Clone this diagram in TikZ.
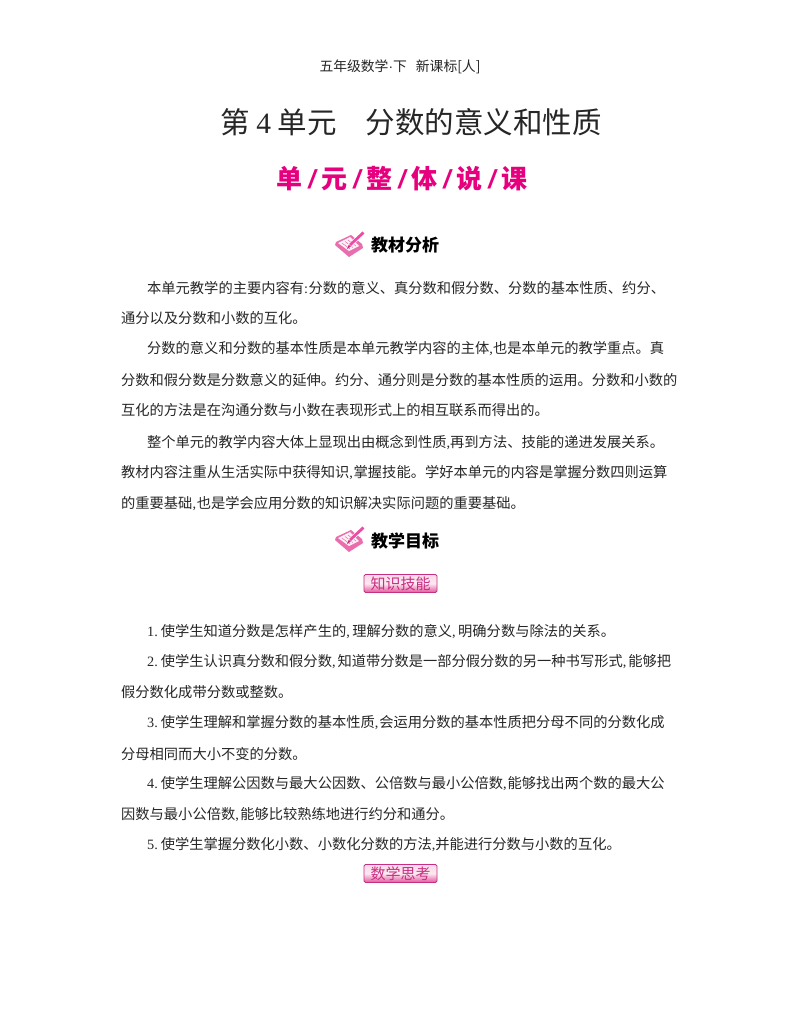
\documentclass[tikz,border=0pt]{standalone}
\usepackage{fontspec}
\setmainfont{Noto Sans CJK SC}
\newfontfamily\latinserif{Liberation Serif}
\newfontfamily\latinsans{Liberation Sans}
\definecolor{rosered}{HTML}{E6007E}
\definecolor{badgepink}{HTML}{E4559E}
\definecolor{badgedark}{HTML}{C62F82}
\definecolor{badgelight}{HTML}{FBD9E8}
\definecolor{inktext}{HTML}{262626}
\newcommand{\cma}[1][1.2pt]{{\latinserif,}\hspace{#1}}
\newcommand{\colonmark}{{\latinserif :}\hspace{0.5pt}}
\newcommand{\numb}[1]{{\latinserif #1.}\hspace{3pt}}
\newcommand{\slashmark}{\hspace{5.9pt}{\latinsans\bfseries\itshape /}\hspace{5.9pt}}
\tikzset{
  bodyline/.style={anchor=west,inner sep=0pt,text=inktext,font=\fontsize{14.26}{16}\selectfont},
  headline/.style={inner sep=0pt,text=black,font=\fontsize{17}{19}\selectfont\bfseries},
  badge/.style={rounded corners=1.5pt,draw=badgedark,line width=0.9pt,minimum width=73pt,minimum height=18pt,
    inner sep=0pt,top color=badgelight,bottom color=badgepink,middle color=badgelight!60!white,
    text=badgedark,font=\fontsize{15}{17}\selectfont},
}
\newcommand{\bookicon}[2]{%
  \begin{scope}[shift={(#1,#2)}]
    \fill[badgepink!85!white] (-15,0) -- (-1,-12) -- (13,-3) -- (12,1) -- (1,10) -- (-14,3) -- cycle;
    \fill[badgelight!40!white] (-12,2) -- (-1,-6) -- (9,-1) -- (0,8) -- cycle;
    \draw[badgepink,line width=0.4pt] (-8,2) -- (0,-4) (-5,3.5) -- (3,-2.5) (-2,5) -- (6,-1);
    \draw[white,line width=4pt] (-1,-1) -- (13,12);
    \draw[rosered!70!white,line width=2.8pt] (0,0) -- (13.5,12.5);
    \fill[badgedark] (0.8,-1.6) -- (-3,-4) -- (-1.2,0.4) -- cycle;
  \end{scope}}
\begin{document}
\begin{tikzpicture}[x=1pt,y=1pt]
\useasboundingbox (0,0) rectangle (800,-1028);
\fill[white] (0,0) rectangle (800,-1028);
\node[inner sep=0pt,text=inktext,font=\fontsize{13.8}{16}\selectfont] (running) at (400,-67) {五年级数学{\latinsans ·}下\hspace{9pt}新课标[人]};
\node[inner sep=0pt,text=inktext,font=\fontsize{29.5}{34}\selectfont] (title) at (411,-122) {第\hspace{6.5pt}{\latinserif 4}\hspace{6.5pt}单元\hspace{29pt}分数的意义和性质};
\node[inner sep=0pt,text=rosered,font=\fontsize{26}{30}\selectfont\bfseries] (subtitle) at (402,-179) {单\slashmark 元\slashmark 整\slashmark 体\slashmark 说\slashmark 课};

\bookicon{350}{-245}
\node[headline] (h1) at (405,-245.5) {教材分析};
\node[bodyline] (a1) at (147,-288) {本单元教学的主要内容有\colonmark 分数的意义、真分数和假分数、分数的基本性质、约分、};
\node[bodyline] (a2) at (121,-318.5) {通分以及分数和小数的互化。};
\node[bodyline] (a3) at (147,-349) {分数的意义和分数的基本性质是本单元教学内容的主体\cma[0pt]也是本单元的教学重点。真};
\node[bodyline] (a4) at (121,-380) {分数和假分数是分数意义的延伸。约分、通分则是分数的基本性质的运用。分数和小数的};
\node[bodyline] (a5) at (121,-410.5) {互化的方法是在沟通分数与小数在表现形式上的相互联系而得出的。};
\node[bodyline] (a6) at (147,-442) {整个单元的教学内容大体上显现出由概念到性质\cma[0pt]再到方法、技能的递进发展关系。};
\node[bodyline] (a7) at (121,-473) {教材内容注重从生活实际中获得知识\cma[0.8pt]掌握技能。学好本单元的内容是掌握分数四则运算};
\node[bodyline] (a8) at (121,-504) {的重要基础\cma[0.8pt]也是学会应用分数的知识解决实际问题的重要基础。};

\bookicon{350}{-540}
\node[headline] (h2) at (405,-540.5) {教学目标};
\node[badge] (b1) at (400.5,-583.5) {知识技能};

\node[bodyline] (c1) at (147,-632) {\numb{1}使学生知道分数是怎样产生的\cma[2.5pt]理解分数的意义\cma[2.5pt]明确分数与除法的关系。};
\node[bodyline] (c2) at (147,-662) {\numb{2}使学生认识真分数和假分数\cma[2pt]知道带分数是一部分假分数的另一种书写形式\cma[2pt]能够把};
\node[bodyline] (c3) at (121,-692) {假分数化成带分数或整数。};
\node[bodyline] (c4) at (147,-723) {\numb{3}使学生理解和掌握分数的基本性质\cma[1pt]会运用分数的基本性质把分母不同的分数化成};
\node[bodyline] (c5) at (121,-754) {分母相同而大小不变的分数。};
\node[bodyline] (c6) at (147,-784) {\numb{4}使学生理解公因数与最大公因数、公倍数与最小公倍数\cma[1pt]能够找出两个数的最大公};
\node[bodyline] (c7) at (121,-815) {因数与最小公倍数\cma[1.5pt]能够比较熟练地进行约分和通分。};
\node[bodyline] (c8) at (147,-845) {\numb{5}使学生掌握分数化小数、小数化分数的方法\cma[0pt]并能进行分数与小数的互化。};
\node[badge] (b2) at (400.5,-873.5) {数学思考};
\end{tikzpicture}
\end{document}
